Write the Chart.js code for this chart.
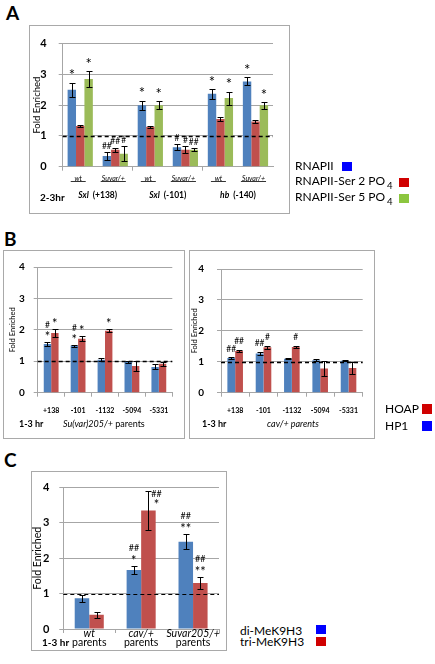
<!DOCTYPE html>
<html><head><meta charset="utf-8">
<script src="https://cdn.jsdelivr.net/npm/chart.js@4.4.1/dist/chart.umd.min.js"></script>
<style>
html,body{margin:0;padding:0;background:#fff}
body{width:435px;height:664px;position:relative;overflow:hidden;font-family:Lato,"Open Sans",sans-serif;color:#000}
canvas{position:absolute}
.box{position:absolute;border:1px solid #a9a9a9;box-sizing:border-box;pointer-events:none}
.t{position:absolute;line-height:1;white-space:nowrap;transform:translateY(-50%)}
.sq{position:absolute}
.b{font-weight:bold}
sub{font-size:0.8em;vertical-align:-0.45em;margin-left:2px}
</style></head><body>

<div class="t b" style="left:6px;top:12px;font-size:19px">A</div>
<div class="t b" style="left:4px;top:238px;font-size:19px">B</div>
<div class="t b" style="left:4px;top:459px;font-size:19px">C</div>

<canvas id="cA" width="261" height="189" style="left:29px;top:25px;width:261px;height:189px"></canvas>
<canvas id="cBL" width="182" height="189" style="left:3px;top:250px;width:182px;height:189px"></canvas>
<canvas id="cBR" width="186" height="189" style="left:189px;top:250px;width:186px;height:189px"></canvas>
<canvas id="cC" width="196" height="180" style="left:31px;top:471px;width:196px;height:180px"></canvas>

<div class="box" style="left:29px;top:25px;width:261px;height:189px"></div>
<div class="box" style="left:3px;top:250px;width:182px;height:189px"></div>
<div class="box" style="left:189px;top:250px;width:186px;height:189px"></div>
<div class="box" style="left:31px;top:471px;width:196px;height:180px"></div>

<!-- panel A extra texts and legend -->
<div class="t b" style="left:40px;top:197px;font-size:10px">2-3hr</div>
<div class="t" style="left:295px;top:166px;font-size:12px">RNAPII</div>
<div class="sq" style="left:342px;top:162px;width:10px;height:9px;background:#0000FF"></div>
<div class="t" style="left:295px;top:182.5px;font-size:12px">RNAPII-Ser 2 PO<sub>4</sub></div>
<div class="sq" style="left:399px;top:178px;width:10px;height:9px;background:#D00000"></div>
<div class="t" style="left:295px;top:199px;font-size:12px">RNAPII-Ser 5 PO<sub>4</sub></div>
<div class="sq" style="left:399px;top:194px;width:10px;height:9px;background:#8CC63F"></div>

<!-- panel B extra texts and legend -->
<div class="t b" style="left:19px;top:423px;font-size:9px">1-3 hr</div>
<div class="t" style="left:63px;top:423px;font-size:9px"><i>Su(var)205/+</i> parents</div>
<div class="t b" style="left:202px;top:423px;font-size:9px">1-3 hr</div>
<div class="t" style="left:267px;top:423px;font-size:9px"><i>cav/+ parents</i></div>
<div class="t" style="left:385px;top:409px;font-size:12px">HOAP</div>
<div class="sq" style="left:422px;top:404px;width:10px;height:10px;background:#D00000"></div>
<div class="t" style="left:385px;top:426px;font-size:12px">HP1</div>
<div class="sq" style="left:422px;top:421px;width:10px;height:10px;background:#0000FF"></div>

<!-- panel C extra texts and legend -->
<div class="t b" style="left:42px;top:642px;font-size:10px">1-3 hr</div>
<div class="t" style="left:240px;top:630.5px;font-size:12px">di-MeK9H3</div>
<div class="sq" style="left:316px;top:625px;width:10px;height:9px;background:#0000FF"></div>
<div class="t" style="left:240px;top:642px;font-size:12px">tri-MeK9H3</div>
<div class="sq" style="left:316px;top:637px;width:10px;height:9px;background:#D00000"></div>

<script>
// ---------------- DATA ----------------
const yTicks = [0, 1, 2, 3, 4];

// Panel A: 2-3hr, RNAPII ChIP
const aSubgroups = ['wt', 'Suvar/+', 'wt', 'Suvar/+', 'wt', 'Suvar/+'];
const aGenes = ['Sxl', 'Sxl', 'hb'];
const aSites = ['(+138)', '(-101)', '(-140)'];
const aRnapii    = [2.50, 0.35, 2.00, 0.63, 2.37, 2.77];
const aRnapiiErr = [0.23, 0.12, 0.15, 0.10, 0.16, 0.13];
const aRnapiiSig = ['*', '##', '*', '#', '*', '*'];
const aSer2      = [1.32, 0.55, 1.30, 0.55, 1.55, 1.47];
const aSer2Err   = [0.04, 0.07, 0.03, 0.12, 0.07, 0.05];
const aSer2Sig   = ['', '##', '', '#', '', ''];
const aSer5      = [2.85, 0.42, 2.00, 0.55, 2.23, 2.00];
const aSer5Err   = [0.25, 0.25, 0.12, 0.05, 0.21, 0.11];
const aSer5Sig   = ['*', '#', '*', '##', '*', '*'];

// Panel B: 1-3 hr, HP1 / HOAP
const bSites = ['+138', '-101', '-1132', '-5094', '-5331'];
const bSuvarHP1     = [1.55, 1.50, 1.05, 0.98, 0.82];
const bSuvarHP1Err  = [0.07, 0.03, 0.05, 0.02, 0.08];
const bSuvarHP1Sig  = ['#\n*', '#\n*', '', '', ''];
const bSuvarHOAP    = [1.90, 1.72, 1.97, 0.85, 0.92];
const bSuvarHOAPErr = [0.12, 0.08, 0.05, 0.17, 0.07];
const bSuvarHOAPSig = ['*', '*', '*', '', ''];
const bCavHP1       = [1.12, 1.27, 1.10, 1.05, 1.03];
const bCavHP1Err    = [0.02, 0.04, 0.02, 0.04, 0.02];
const bCavHP1Sig    = ['##', '##', '', '', ''];
const bCavHOAP      = [1.35, 1.47, 1.48, 0.78, 0.80];
const bCavHOAPErr   = [0.04, 0.05, 0.03, 0.25, 0.20];
const bCavHOAPSig   = ['##', '#', '#', '', ''];

// Panel C: 1-3 hr, H3K9 methylation
const cGenotypes = ['wt', 'cav/+', 'Suvar205/+'];
const cSub = 'parents';
const cDi     = [0.87, 1.67, 2.47];
const cDiErr  = [0.10, 0.12, 0.22];
const cDiSig  = ['', '##\n*', '##\n**'];
const cTri    = [0.40, 3.35, 1.30];
const cTriErr = [0.08, 0.55, 0.17];
const cTriSig = ['', '##\n*', '##\n**'];

// ---------------- DRAWING ----------------
const FF = 'Lato, "Open Sans", sans-serif';
const BLUE = '#4F81BD', RED = '#C0504D', GREEN = '#9BBB59';
const GRID = '#a6a6a6';

function extrasPlugin(o) {
  return {
    id: 'extras',
    afterDatasetsDraw(chart) {
      const {ctx, chartArea: ca, scales: {y}} = chart;
      ctx.save();
      ctx.strokeStyle = '#000';
      ctx.lineWidth = 1;
      chart.data.datasets.forEach((ds, i) => {
        chart.getDatasetMeta(i).data.forEach((bar, j) => {
          const v = ds.data[j], e = ds.errors[j];
          const yt = Math.round(y.getPixelForValue(v + e)) + 0.5;
          const yb = Math.round(y.getPixelForValue(v - e)) + 0.5;
          const xc = Math.round(bar.x) + 0.5;
          ctx.beginPath();
          ctx.moveTo(xc, yt); ctx.lineTo(xc, yb);
          ctx.moveTo(xc - o.cap, yt); ctx.lineTo(xc + o.cap, yt);
          ctx.moveTo(xc - o.cap, yb); ctx.lineTo(xc + o.cap, yb);
          ctx.stroke();
        });
      });
      // dashed baseline at fold enrichment 1
      const y1 = Math.round(y.getPixelForValue(1)) + 0.5;
      ctx.setLineDash(o.dash);
      ctx.lineWidth = o.dashW;
      ctx.beginPath(); ctx.moveTo(ca.left, y1); ctx.lineTo(ca.right, y1); ctx.stroke();
      ctx.setLineDash([]);
      // significance marks
      ctx.fillStyle = '#000';
      ctx.textAlign = 'center';
      ctx.textBaseline = 'alphabetic';
      const isStar = l => l.indexOf('*') >= 0;
      chart.data.datasets.forEach((ds, i) => {
        chart.getDatasetMeta(i).data.forEach((bar, j) => {
          const s = ds.sig && ds.sig[j];
          if (!s) return;
          const lines = s.split('\n');
          const top = y.getPixelForValue(ds.data[j] + ds.errors[j]);
          const centers = [];
          let c = top - (isStar(lines[lines.length - 1]) ? o.gapStar : o.gapHash);
          for (let k = lines.length - 1; k >= 0; k--) { centers[k] = c; c -= o.step; }
          let xc = bar.x;
          if (centers[0] - 5 < ca.top) {
            xc = bar.x + o.side;
            let c2 = top + 3;
            for (let k = 0; k < lines.length; k++) { centers[k] = c2; c2 += o.step * 0.8; }
          }
          lines.forEach((l, k) => {
            const star = isStar(l);
            const sz = star ? o.starSize : o.hashSize;
            ctx.font = `${sz}px ${FF}`;
            ctx.fillText(l, xc, centers[k] + (star ? 0.55 : 0.36) * sz);
          });
        });
      });
      ctx.restore();
    }
  };
}

function makeChart(id, box, area, labels, series, cfg, xlabels) {
  const datasets = series.map(s => ({
    label: s.label, data: s.data, errors: s.err, sig: s.sig,
    backgroundColor: s.color, borderWidth: 0,
    categoryPercentage: cfg.cp, barPercentage: 1
  }));
  return new Chart(document.getElementById(id), {
    type: 'bar',
    data: {labels, datasets},
    options: {
      responsive: false, animation: false, devicePixelRatio: 1,
      layout: {padding: {top: area.t - box.t, right: box.l + box.w - area.r, left: 0, bottom: 0}},
      plugins: {legend: {display: false}, tooltip: {enabled: false}},
      scales: {
        x: {
          grid: {display: true, drawOnChartArea: false, drawTicks: true, tickLength: 4, offset: true,
                 color: cfg.xTickColor || GRID},
          border: {display: true, color: GRID},
          ticks: {display: false},
          afterFit: s => { s.height = box.t + box.h - area.b; }
        },
        y: {
          min: 0, max: 4,
          afterBuildTicks: s => { s.ticks = yTicks.map(v => ({value: v})); },
          ticks: {font: {family: FF, size: cfg.yTickSize, weight: 'bold'}, color: '#000', padding: cfg.yPad},
          grid: {color: GRID, tickLength: 4},
          border: {display: true, color: GRID},
          title: {display: true, text: 'Fold Enriched', color: '#000',
                  font: {family: FF, size: cfg.titleSize}, padding: {top: cfg.titlePad, bottom: 0}},
          afterFit: s => { s.width = area.l - box.l; }
        }
      }
    },
    plugins: [extrasPlugin(cfg.marks), xlabels]
  });
}

// ---- Panel A
makeChart('cA', {l: 29, t: 25, w: 261, h: 189}, {l: 62.7, r: 273, t: 41.6, b: 166.7},
  aSubgroups,
  [
    {label: 'RNAPII', data: aRnapii, err: aRnapiiErr, sig: aRnapiiSig, color: BLUE},
    {label: 'RNAPII-Ser 2 PO4', data: aSer2, err: aSer2Err, sig: aSer2Sig, color: RED},
    {label: 'RNAPII-Ser 5 PO4', data: aSer5, err: aSer5Err, sig: aSer5Sig, color: GREEN}
  ],
  {cp: 0.72, yTickSize: 11, yPad: 12, titleSize: 9.5, titlePad: 2,
   xTickColor: ctx => (ctx.index % 2 === 0 ? GRID : 'rgba(0,0,0,0)'),
   marks: {cap: 3, dash: [4, 3], dashW: 1.3, gapStar: 10.5, gapHash: 6.5, step: 9, starSize: 15, hashSize: 8.5, side: 8}},
  {id: 'xlabA', afterDraw(chart) {
    const {ctx, chartArea: ca, scales: {x}} = chart;
    ctx.save();
    ctx.fillStyle = '#000'; ctx.strokeStyle = '#000';
    ctx.textBaseline = 'middle'; ctx.textAlign = 'center';
    ctx.font = `italic 7px ${FF}`;
    aSubgroups.forEach((s, j) => {
      const xc = x.getPixelForValue(j) - 2, yc = ca.bottom + 11.8;
      ctx.fillText(s, xc, yc);
      const w = Math.max(ctx.measureText(s).width + 2, 15);
      ctx.lineWidth = 0.8;
      ctx.beginPath(); ctx.moveTo(xc - w / 2, yc + 3); ctx.lineTo(xc + w / 2, yc + 3); ctx.stroke();
    });
    aGenes.forEach((g, k) => {
      const xc = (x.getPixelForValue(2 * k) + x.getPixelForValue(2 * k + 1)) / 2;
      const yc = ca.bottom + 28.3;
      const f1 = `italic bold 8.5px ${FF}`, f2 = `bold 8.5px ${FF}`;
      ctx.font = f1; const w1 = ctx.measureText(g).width + 4;
      ctx.font = f2; const w2 = ctx.measureText(aSites[k]).width;
      const x0 = xc - (w1 + w2) / 2;
      ctx.textAlign = 'left';
      ctx.font = f1; ctx.fillText(g, x0, yc);
      ctx.font = f2; ctx.fillText(aSites[k], x0 + w1, yc);
    });
    ctx.restore();
  }});

// ---- Panel B
function bXLabels(id) {
  return {id, afterDraw(chart) {
    const {ctx, chartArea: ca, scales: {x}} = chart;
    ctx.save();
    ctx.fillStyle = '#000'; ctx.textAlign = 'center'; ctx.textBaseline = 'middle';
    ctx.font = `bold 7px ${FF}`;
    bSites.forEach((s, j) => ctx.fillText(s, x.getPixelForValue(j), ca.bottom + 18));
    ctx.restore();
  }};
}
const bMarks = {cap: 3, dash: [4, 3], dashW: 1.3, gapStar: 8, gapHash: 9, step: 9, starSize: 13, hashSize: 8.5, side: 8};
makeChart('cBL', {l: 3, t: 250, w: 182, h: 189}, {l: 37.7, r: 172.3, t: 267, b: 392.7},
  bSites,
  [
    {label: 'HP1', data: bSuvarHP1, err: bSuvarHP1Err, sig: bSuvarHP1Sig, color: BLUE},
    {label: 'HOAP', data: bSuvarHOAP, err: bSuvarHOAPErr, sig: bSuvarHOAPSig, color: RED}
  ],
  {cp: 0.55, yTickSize: 10, yPad: 9, titleSize: 7.5, titlePad: 5, marks: bMarks},
  bXLabels('xlabBL'));
makeChart('cBR', {l: 189, t: 250, w: 186, h: 189}, {l: 221, r: 362.7, t: 267, b: 392.7},
  bSites,
  [
    {label: 'HP1', data: bCavHP1, err: bCavHP1Err, sig: bCavHP1Sig, color: BLUE},
    {label: 'HOAP', data: bCavHOAP, err: bCavHOAPErr, sig: bCavHOAPSig, color: RED}
  ],
  {cp: 0.55, yTickSize: 10, yPad: 13, titleSize: 7.5, titlePad: 1, marks: bMarks},
  bXLabels('xlabBR'));

// ---- Panel C
makeChart('cC', {l: 31, t: 471, w: 196, h: 180}, {l: 63.3, r: 219, t: 483.3, b: 629},
  cGenotypes,
  [
    {label: 'di-MeK9H3', data: cDi, err: cDiErr, sig: cDiSig, color: BLUE},
    {label: 'tri-MeK9H3', data: cTri, err: cTriErr, sig: cTriSig, color: RED}
  ],
  {cp: 0.56, yTickSize: 11, yPad: 10, titleSize: 10.5, titlePad: 0,
   marks: {cap: 3, dash: [4, 3], dashW: 1.2, gapStar: 8, gapHash: 8, step: 10, starSize: 13, hashSize: 9, side: 8}},
  {id: 'xlabC', afterDraw(chart) {
    const {ctx, chartArea: ca, scales: {x}} = chart;
    ctx.save();
    ctx.fillStyle = '#000'; ctx.textAlign = 'center'; ctx.textBaseline = 'middle';
    cGenotypes.forEach((g, j) => {
      const xc = x.getPixelForValue(j);
      ctx.font = `italic 10.5px ${FF}`; ctx.fillText(g, xc, ca.bottom + 5);
      ctx.font = `10.5px ${FF}`; ctx.fillText(cSub, xc, ca.bottom + 14);
    });
    ctx.restore();
  }});
</script>
</body></html>
